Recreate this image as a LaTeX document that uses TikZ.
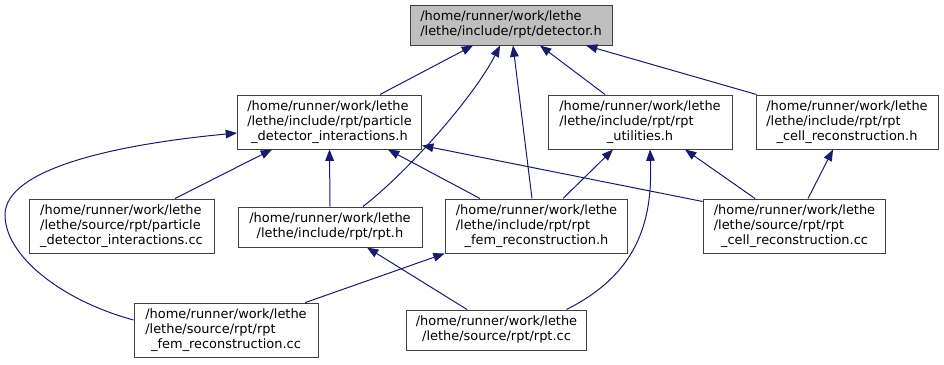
\documentclass[tikz,border=0pt]{standalone}
\usepackage{fontspec}
\setmainfont{DejaVu Sans}
\usetikzlibrary{arrows.meta,calc}

\definecolor{edgeblue}{HTML}{191970}
\definecolor{boxgray}{HTML}{BFBFBF}
\definecolor{boxline}{HTML}{404040}

% last line of a file name is centred, the others flush left
\newcommand{\lastline}[1]{\multicolumn{1}{@{}c@{}}{#1}}

\tikzset{
    filebox/.style={draw=boxline,fill=white,line width=0.75pt,inner sep=0pt,
                    minimum width=138pt,minimum height=40.5pt,
                    font=\fontsize{9.7}{11.25}\selectfont},
    dep/.style={draw=edgeblue,line width=0.75pt,-{Triangle[length=8.5pt,width=6.5pt]}},
}

\begin{document}
\begin{tikzpicture}[x=0.75pt,y=-0.75pt]
            \useasboundingbox (0,0) rectangle (944,364);

            % header being included
            \node[filebox,fill=boxgray,minimum width=151.5pt,minimum height=30pt] (det) at (511,25)
                {\begin{tabular}{@{}l@{}}/home/runner/work/lethe\\\lastline{/lethe/include/rpt/detector.h}\end{tabular}};

            % headers
            \node[filebox] (pdih) at (329.5,122)
                {\begin{tabular}{@{}l@{}}/home/runner/work/lethe\\/lethe/include/rpt/particle\\\lastline{\_detector\_interactions.h}\end{tabular}};
            \node[filebox] (utilh) at (640,122)
                {\begin{tabular}{@{}l@{}}/home/runner/work/lethe\\/lethe/include/rpt/rpt\\\lastline{\_utilities.h}\end{tabular}};
            \node[filebox,minimum width=136.5pt] (cellh) at (847,122)
                {\begin{tabular}{@{}l@{}}/home/runner/work/lethe\\/lethe/include/rpt/rpt\\\lastline{\_cell\_reconstruction.h}\end{tabular}};
            \node[filebox,minimum height=30pt] (rpth) at (330,227)
                {\begin{tabular}{@{}l@{}}/home/runner/work/lethe\\\lastline{/lethe/include/rpt/rpt.h}\end{tabular}};
            \node[filebox,minimum width=137pt] (femh) at (536.5,226)
                {\begin{tabular}{@{}l@{}}/home/runner/work/lethe\\/lethe/include/rpt/rpt\\\lastline{\_fem\_reconstruction.h}\end{tabular}};

            % sources
            \node[filebox,minimum width=138.75pt] (pdicc) at (121.5,226)
                {\begin{tabular}{@{}l@{}}/home/runner/work/lethe\\/lethe/source/rpt/particle\\\lastline{\_detector\_interactions.cc}\end{tabular}};
            \node[filebox,minimum width=137pt] (cellcc) at (794.5,226)
                {\begin{tabular}{@{}l@{}}/home/runner/work/lethe\\/lethe/source/rpt/rpt\\\lastline{\_cell\_reconstruction.cc}\end{tabular}};
            \node[filebox,minimum height=41pt] (femcc) at (226,330.5)
                {\begin{tabular}{@{}l@{}}/home/runner/work/lethe\\/lethe/source/rpt/rpt\\\lastline{\_fem\_reconstruction.cc}\end{tabular}};
            \node[filebox,minimum width=135pt,minimum height=30pt] (rptcc) at (496.5,330)
                {\begin{tabular}{@{}l@{}}/home/runner/work/lethe\\\lastline{/lethe/source/rpt/rpt.cc}\end{tabular}};

            % includes of detector.h
            \draw[dep] ($(pdih.north)+(50.5,0)$) -- ($(det.south)+(-38,0)$);
            \draw[dep] ($(rpth.north)+(33,0)$) .. controls (410,170) and (475,95) .. ($(det.south)+(-11,0)$);
            \draw[dep] ($(femh.north)+(-4.5,0)$) -- ($(det.south)+(2,0)$);
            \draw[dep] ($(utilh.north)+(-35,0)$) -- ($(det.south)+(29,0)$);
            \draw[dep] ($(cellh.north west)+(1,0)$) -- ($(det.south)+(75,0)$);

            % includes of particle_detector_interactions.h
            \draw[dep] ($(pdicc.north)+(53.5,0)$) -- ($(pdih.south)+(-57.5,0)$);
            \draw[dep] (rpth.north) -- (pdih.south);
            \draw[dep] ($(femh.north)+(-56.5,0)$) -- ($(pdih.south)+(58.5,0)$);
            \draw[dep] ($(cellcc.north west)+(0,3)$) -- ($(pdih.south east)+(0,-4)$);
            \draw[dep] ($(femcc.west)+(0,-10.5)$) .. controls (60,300) and (5,255) .. (5,215)
                                                  .. controls (5,170) and (110,145) .. ($(pdih.west)+(0,11)$);

            % includes of rpt_utilities.h
            \draw[dep] ($(femh.north)+(26.5,0)$) -- ($(utilh.south)+(-27,0)$);
            \draw[dep] ($(rptcc.north)+(70,0)$) .. controls (635,275) and (653,225) .. ($(utilh.south)+(10,0)$);
            \draw[dep] ($(cellcc.north)+(-39.5,0)$) -- ($(utilh.south)+(45,0)$);

            % the rest
            \draw[dep] ($(cellcc.north)+(13.5,0)$) -- ($(cellh.south)+(-14,0)$);
            \draw[dep] ($(rptcc.north)+(-29.5,0)$) -- ($(rpth.south)+(37,0)$);
            \draw[dep] ($(femcc.north)+(79,0)$) -- (femh.south west);
\end{tikzpicture}
\end{document}
